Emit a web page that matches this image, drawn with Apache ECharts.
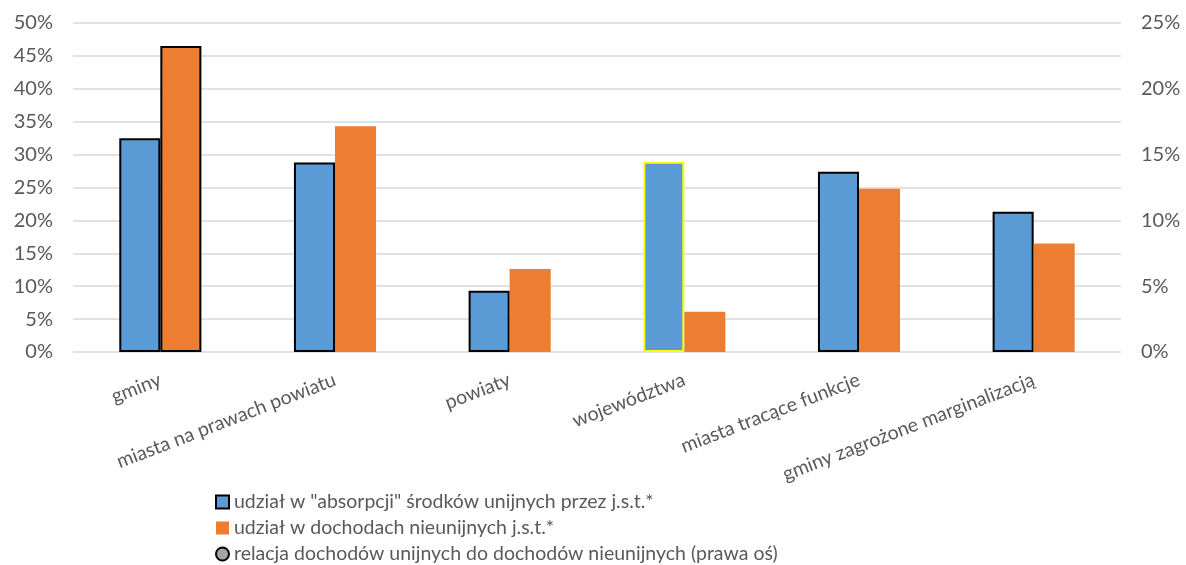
<!DOCTYPE html>
<html>
<head>
<meta charset="utf-8">
<script src="https://cdn.jsdelivr.net/npm/echarts@6/dist/echarts.min.js"></script>
<style>
  html, body { margin: 0; padding: 0; background: #fff; }
  #chart { width: 1186px; height: 565px; }
</style>
</head>
<body>
<div id="chart"></div>
<script>
// Categories of local government units
const categories = [
  'gminy',
  'miasta na prawach powiatu',
  'powiaty',
  'województwa',
  'miasta tracące funkcje',
  'gminy zagrożone marginalizacją'
];

// Share in absorption of EU funds (%)
const absorptionShare = [32.5, 28.8, 9.3, 28.9, 27.4, 21.3];
// Share in non-EU revenues (%)
const nonEuRevenueShare = [46.5, 34.3, 12.6, 6.1, 24.8, 16.5];
// Ratio of EU to non-EU revenues (right axis, %) – no values plotted
const euToNonEuRatio = [];

const seriesNames = [
  'udział w "absorpcji" środków unijnych przez j.s.t.*',
  'udział w dochodach nieunijnych j.s.t.*',
  'relacja dochodów unijnych do dochodów nieunijnych (prawa oś)'
];

const textColor = '#595959';
const fontFamily = 'Lato, "Open Sans", sans-serif';

const blueData = absorptionShare.map((v, i) => {
  const item = { value: v };
  if (categories[i] === 'województwa') {
    item.itemStyle = { borderColor: '#FFFF00', borderWidth: 2 };
  }
  return item;
});

const orangeData = nonEuRevenueShare.map((v, i) => {
  const item = { value: v };
  if (i === 0) {
    item.itemStyle = { borderColor: '#000', borderWidth: 2 };
  }
  return item;
});

const chart = echarts.init(document.getElementById('chart'));
chart.setOption({
  animation: false,
  textStyle: { fontFamily: fontFamily, color: textColor },
  grid: { left: 73, right: 65, top: 23, bottom: 213, containLabel: false },
  legend: {
    orient: 'vertical',
    left: 210,
    top: 487,
    height: 100,
    itemGap: 6,
    itemWidth: 13,
    itemHeight: 13,
    textStyle: { fontFamily: fontFamily, fontSize: 19.5, lineHeight: 20, color: textColor },
    data: [
      { name: seriesNames[0], icon: 'rect' },
      { name: seriesNames[1], icon: 'rect' },
      { name: seriesNames[2], icon: 'circle' }
    ]
  },
  xAxis: {
    type: 'category',
    data: categories,
    axisTick: { show: false },
    axisLine: { show: false },
    axisLabel: {
      rotate: 21,
      margin: 27,
      interval: 0,
      fontSize: 19.5,
      color: textColor,
      fontFamily: fontFamily
    }
  },
  yAxis: [
    {
      type: 'value',
      min: 0,
      max: 50,
      interval: 5,
      axisLine: { show: false },
      axisTick: { show: false },
      axisLabel: { formatter: '{value}%', fontSize: 20, color: textColor, margin: 20, fontFamily: fontFamily },
      splitLine: { lineStyle: { color: '#D9D9D9', width: 1.5 } }
    },
    {
      type: 'value',
      min: 0,
      max: 25,
      interval: 5,
      position: 'right',
      axisLine: { show: false },
      axisTick: { show: false },
      axisLabel: { formatter: '{value}%', fontSize: 20, color: textColor, margin: 20, fontFamily: fontFamily },
      splitLine: { show: false }
    }
  ],
  series: [
    {
      name: seriesNames[0],
      type: 'bar',
      data: blueData,
      barGap: '0%',
      barCategoryGap: '53%',
      itemStyle: { color: '#5B9BD5', borderColor: '#000', borderWidth: 2 }
    },
    {
      name: seriesNames[1],
      type: 'bar',
      data: orangeData,
      itemStyle: { color: '#ED7D31', borderWidth: 0 }
    },
    {
      name: seriesNames[2],
      type: 'line',
      yAxisIndex: 1,
      data: euToNonEuRatio,
      symbol: 'circle',
      lineStyle: { width: 0 },
      itemStyle: { color: '#A5A5A5', borderColor: '#000', borderWidth: 2 }
    }
  ]
});
</script>
</body>
</html>
